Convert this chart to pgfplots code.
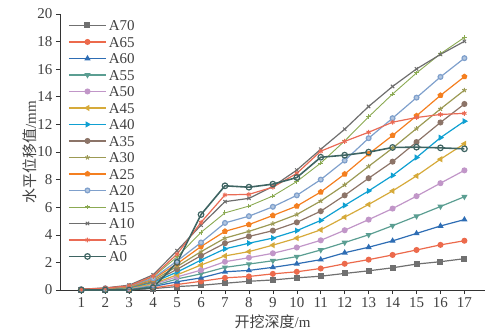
\documentclass[border=0pt]{standalone}
\usepackage{pgfplots}
\pgfplotsset{compat=1.18}
\usepackage{pgfplotstable}
\usetikzlibrary{plotmarks}
\usepackage{fontspec}
\setmainfont{Liberation Serif}
\newfontfamily\cjk{Noto Sans CJK SC}
\definecolor{cA70}{HTML}{707070}
\definecolor{cA65}{HTML}{EC6A4C}
\definecolor{cA60}{HTML}{2E6DB4}
\definecolor{cA55}{HTML}{5B9E92}
\definecolor{cA50}{HTML}{C196C8}
\definecolor{cA45}{HTML}{D6AA3A}
\definecolor{cA40}{HTML}{0FA0D2}
\definecolor{cA35}{HTML}{8C7468}
\definecolor{cA30}{HTML}{9C9A54}
\definecolor{cA25}{HTML}{F47F20}
\definecolor{cA20}{HTML}{7FA0CC}
\definecolor{cA15}{HTML}{8BAA52}
\definecolor{cA10}{HTML}{6E6E6E}
\definecolor{cA5}{HTML}{EA6B55}
\definecolor{cA0}{HTML}{3E6462}
\pgfplotstableread{
x A70 A65 A60 A55 A50 A45 A40 A35 A30 A25 A20 A15 A10 A5 A0
1 0.00 0.00 0.01 0.01 0.02 0.02 0.03 0.03 0.04 0.04 0.05 0.05 0.06 0.05 0.00
2 0.02 0.03 0.04 0.05 0.06 0.07 0.08 0.09 0.10 0.11 0.12 0.13 0.15 0.14 0.00
3 0.03 0.05 0.08 0.10 0.12 0.15 0.18 0.20 0.22 0.25 0.28 0.30 0.35 0.30 0.00
4 0.10 0.15 0.25 0.30 0.40 0.45 0.55 0.60 0.70 0.80 0.85 0.95 1.10 1.00 0.17
5 0.25 0.40 0.60 0.80 0.95 1.10 1.30 1.50 1.70 1.90 2.10 2.40 2.85 2.60 2.00
6 0.34 0.63 0.88 1.17 1.44 1.81 2.17 2.49 2.78 3.15 3.44 4.18 4.70 4.90 5.47
7 0.49 0.88 1.32 1.64 2.05 2.47 2.98 3.39 3.76 4.25 4.86 5.59 6.40 6.89 7.55
8 0.63 0.98 1.42 1.88 2.34 2.78 3.39 3.88 4.25 4.74 5.35 6.08 6.64 6.93 7.45
9 0.73 1.17 1.64 2.12 2.66 3.25 3.76 4.30 4.81 5.40 6.03 6.81 7.50 7.45 7.67
10 0.88 1.32 1.90 2.42 3.08 3.76 4.30 4.90 5.47 6.08 6.86 7.86 8.69 8.45 8.15
11 1.00 1.56 2.20 2.90 3.60 4.36 5.04 5.71 6.45 7.10 8.00 9.20 10.20 10.06 9.62
12 1.20 1.90 2.70 3.44 4.33 5.28 6.13 6.86 7.62 8.40 9.38 10.80 11.65 10.77 9.77
13 1.39 2.20 3.10 4.00 5.10 6.20 7.18 8.10 8.96 9.86 11.00 12.55 13.30 11.43 9.99
14 1.61 2.54 3.56 4.66 5.90 7.18 8.30 9.30 10.28 11.20 12.45 14.20 14.75 12.16 10.33
15 1.88 2.90 4.10 5.35 6.80 8.27 9.60 10.72 11.70 12.62 13.94 15.73 16.02 12.50 10.35
16 2.05 3.27 4.64 6.05 7.74 9.48 11.04 12.14 13.12 14.10 15.44 17.12 17.07 12.72 10.30
17 2.27 3.57 5.10 6.76 8.67 10.60 12.23 13.48 14.48 15.46 16.80 18.30 18.02 12.80 10.23
}\datatable
\begin{document}
\begin{tikzpicture}
\begin{axis}[
  scale only axis, width=425pt, height=276pt,
  xmin=0.11, xmax=17.86, ymin=0, ymax=20,
  axis x line*=bottom, axis y line*=left,
  axis line style={-, line width=0.8pt, black!80},
  xtick={1,...,17}, ytick={0,2,...,20},
  tick align=outside, major tick length=4pt,
  tick style={black!80, line width=0.6pt},
  /pgf/number format/assume math mode=true,
  ticklabel style={font=\fontsize{15}{17}\selectfont, text=black!75},
  xlabel={{\cjk 开挖深度}/m}, ylabel={{\cjk 水平位移值}/mm},
  label style={font=\fontsize{15}{17}\selectfont, text=black!75},
  xlabel style={at={(axis description cs:0.5,-0.116)}, anchor=center},
  ylabel style={at={(axis description cs:-0.07,0.5)}, anchor=center},
  every axis plot/.append style={line width=1.2pt, mark size=2.4pt},
  legend style={at={(axis description cs:0,1)}, anchor=north west, xshift=5pt, yshift=-1pt, draw=none, fill=none,
    font=\fontsize{15}{17}\selectfont, row sep=0pt,
    nodes={text=black!75, text height=10.5pt, text depth=0pt, inner ysep=3.0pt}},
  legend cell align=left,
  legend image code/.code={\draw[mark repeat=2,mark phase=2] plot coordinates {(0cm,0cm) (0.65cm,0cm) (1.3cm,0cm)};},
]
\addplot[color=cA70, mark=square*] table[x=x,y=A70]{\datatable};
\addlegendentry{A70}
\addplot[color=cA65, mark=*] table[x=x,y=A65]{\datatable};
\addlegendentry{A65}
\addplot[color=cA60, mark=triangle*] table[x=x,y=A60]{\datatable};
\addlegendentry{A60}
\addplot[color=cA55, mark=triangle*, mark options={rotate=180}] table[x=x,y=A55]{\datatable};
\addlegendentry{A55}
\addplot[color=cA50, mark=*] table[x=x,y=A50]{\datatable};
\addlegendentry{A50}
\addplot[color=cA45, mark=triangle*, mark options={rotate=90}] table[x=x,y=A45]{\datatable};
\addlegendentry{A45}
\addplot[color=cA40, mark=triangle*, mark options={rotate=-90}] table[x=x,y=A40]{\datatable};
\addlegendentry{A40}
\addplot[color=cA35, mark=*] table[x=x,y=A35]{\datatable};
\addlegendentry{A35}
\addplot[color=cA30, mark=star, mark options={line width=1pt}] table[x=x,y=A30]{\datatable};
\addlegendentry{A30}
\addplot[color=cA25, mark=pentagon*] table[x=x,y=A25]{\datatable};
\addlegendentry{A25}
\addplot[color=cA20, mark=*, mark options={fill=cA20!60!white}] table[x=x,y=A20]{\datatable};
\addlegendentry{A20}
\addplot[color=cA15, line width=0.9pt, mark=+, mark options={line width=1pt}] table[x=x,y=A15]{\datatable};
\addlegendentry{A15}
\addplot[color=cA10, mark=x, mark options={line width=1pt}] table[x=x,y=A10]{\datatable};
\addlegendentry{A10}
\addplot[color=cA5, mark=asterisk, mark options={line width=1pt}] table[x=x,y=A5]{\datatable};
\addlegendentry{A5}
\addplot[color=cA0, line width=1.6pt, mark=o, mark size=2.8pt, mark options={fill=white, line width=1.2pt}] table[x=x,y=A0]{\datatable};
\addlegendentry{A0}
\end{axis}
\pgfresetboundingbox
\path[use as bounding box] (-60pt,-42pt) rectangle (427pt,290pt);
\end{tikzpicture}
\end{document}
